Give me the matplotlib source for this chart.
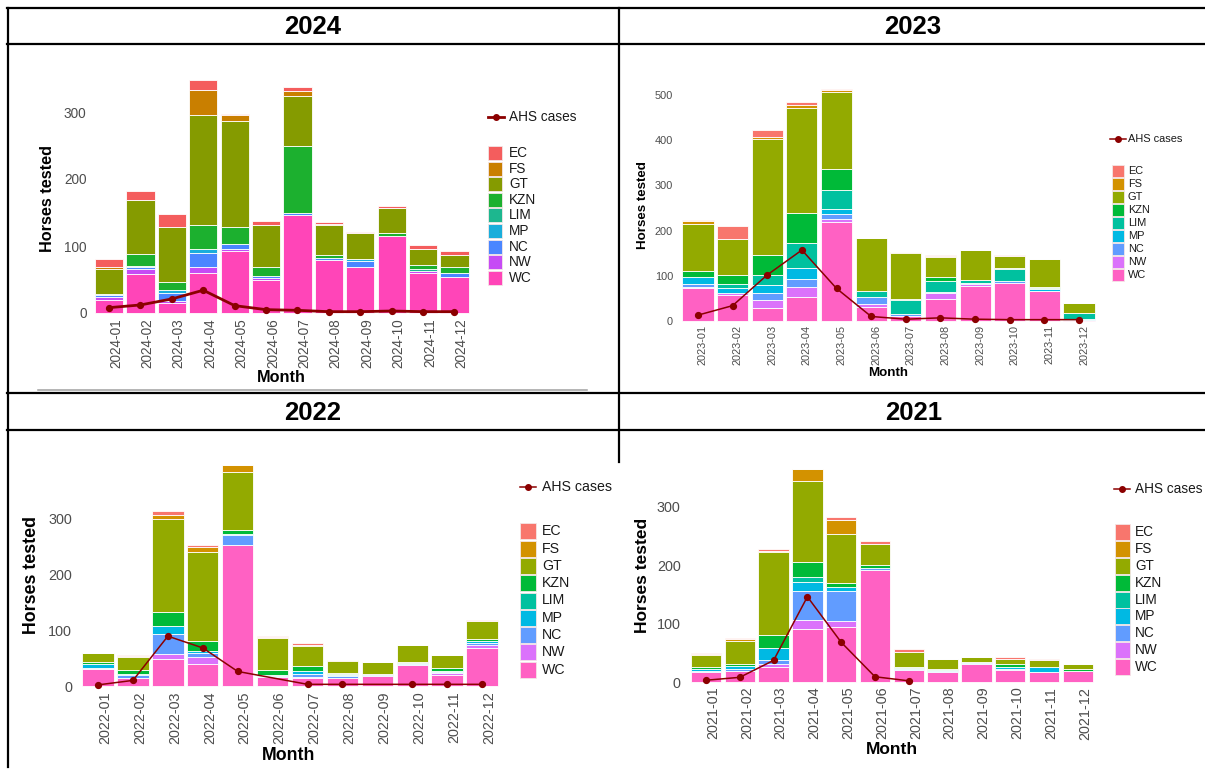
import matplotlib
matplotlib.use("Agg")
import matplotlib.pyplot as plt
from matplotlib.patches import Rectangle
from matplotlib.lines import Line2D
from matplotlib.ticker import MultipleLocator

plt.rcParams['font.family'] = ['Liberation Sans', 'DejaVu Sans']

regions = ["EC", "FS", "GT", "KZN", "LIM", "MP", "NC", "NW", "WC"]
stack_order = ["WC", "NW", "NC", "MP", "LIM", "KZN", "GT", "FS", "EC"]

# horses tested per region, Jan..Dec
tested_2024 = {
    "WC":  [20, 58, 15, 60, 93, 50, 146, 79, 68, 115, 60, 54],
    "NW":  [4, 8, 3, 8, 3, 2, 0, 0, 0, 0, 3, 0],
    "NC":  [3, 2, 12, 22, 7, 3, 4, 3, 9, 0, 0, 6],
    "MP":  [2, 2, 5, 6, 0, 0, 0, 0, 3, 0, 0, 0],
    "LIM": [0, 0, 0, 0, 0, 0, 0, 0, 0, 0, 3, 0],
    "KZN": [0, 18, 11, 35, 26, 13, 99, 4, 0, 5, 5, 9],
    "GT":  [36, 80, 82, 165, 157, 64, 75, 45, 40, 36, 25, 17],
    "FS":  [3, 0, 0, 37, 9, 0, 8, 2, 0, 0, 0, 0],
    "EC":  [13, 14, 20, 15, 2, 6, 5, 3, 1, 3, 5, 7],
}
tested_2023 = {
    "WC":  [72, 57, 29, 52, 220, 32, 10, 49, 78, 85, 66, 2],
    "NW":  [4, 4, 17, 24, 5, 6, 2, 12, 4, 0, 0, 0],
    "NC":  [5, 0, 17, 18, 11, 14, 3, 3, 0, 3, 0, 1],
    "MP":  [16, 12, 16, 23, 11, 0, 0, 0, 3, 0, 5, 2],
    "LIM": [0, 9, 22, 56, 43, 14, 31, 25, 6, 26, 2, 13],
    "KZN": [13, 19, 45, 67, 47, 0, 2, 8, 0, 3, 3, 0],
    "GT":  [104, 80, 256, 232, 170, 117, 102, 45, 67, 26, 61, 21],
    "FS":  [7, 0, 4, 6, 3, 0, 2, 2, 0, 1, 0, 0],
    "EC":  [2, 30, 16, 6, 4, 0, 0, 3, 0, 1, 0, 0],
}
tested_2022 = {
    "WC":  [30, 14, 49, 40, 251, 16, 14, 15, 18, 38, 20, 68],
    "NW":  [2, 0, 9, 12, 0, 0, 2, 0, 0, 0, 3, 5],
    "NC":  [0, 5, 35, 7, 18, 2, 5, 2, 2, 1, 2, 3],
    "MP":  [8, 3, 15, 3, 3, 2, 5, 3, 2, 2, 2, 4],
    "LIM": [0, 0, 0, 0, 0, 0, 0, 1, 0, 0, 0, 0],
    "KZN": [3, 6, 24, 18, 7, 8, 9, 3, 0, 2, 6, 4],
    "GT":  [16, 23, 166, 160, 103, 58, 36, 20, 21, 30, 22, 32],
    "FS":  [0, 2, 7, 8, 12, 1, 3, 2, 0, 1, 1, 0],
    "EC":  [0, 3, 7, 4, 1, 2, 2, 1, 0, 0, 0, 1],
}
tested_2021 = {
    "WC":  [17, 19, 26, 90, 94, 192, 21, 17, 31, 21, 17, 19],
    "NW":  [0, 0, 4, 16, 10, 0, 0, 0, 0, 0, 0, 0],
    "NC":  [2, 3, 7, 49, 52, 4, 1, 1, 1, 2, 0, 0],
    "MP":  [4, 5, 21, 17, 6, 0, 2, 2, 2, 2, 9, 0],
    "LIM": [0, 0, 0, 8, 0, 0, 0, 0, 1, 0, 0, 0],
    "KZN": [3, 4, 23, 26, 7, 4, 2, 3, 0, 5, 0, 3],
    "GT":  [20, 39, 142, 138, 85, 37, 25, 16, 7, 9, 11, 8],
    "FS":  [2, 4, 1, 20, 24, 0, 1, 0, 0, 1, 1, 0],
    "EC":  [2, 1, 3, 0, 5, 4, 4, 0, 0, 3, 1, 1],
}

# AHS cases per month (None = no point)
cases_2024 = [8, 12, 21, 34, 11, 5, 4, 2, 2, 3, 2, 2]
cases_2023 = [13, 34, 102, 157, 72, 10, 4, 7, 4, 3, 3, 3]
cases_2022 = [2, 10, 89, 68, 26, None, 3, 3, None, 3, 3, 3]
cases_2021 = [3, 8, 37, 146, 68, 9, 2, None, None, None, None, None]

hue = {"EC": "#F8766D", "FS": "#D39200", "GT": "#93AA00", "KZN": "#00BA38",
       "LIM": "#00C19F", "MP": "#00B9E3", "NC": "#619CFF", "NW": "#DB72FB",
       "WC": "#FF61C3"}
hue_2024 = {"EC": "#F45D5D", "FS": "#C97F00", "GT": "#859B00", "KZN": "#1CB02F",
            "LIM": "#1DB78F", "MP": "#1AAEDB", "NC": "#4A86FF", "NW": "#C64BF5",
            "WC": "#FF45B8"}

W, H = 1205, 770
fig = plt.figure(figsize=(W / 100, H / 100), dpi=100)


def fx(x):
    return x / W


def fy(y):
    return 1 - y / H


def hline(y, x0, x1, color="black", lw=1.6):
    fig.add_artist(Line2D([fx(x0), fx(x1)], [fy(y), fy(y)],
                          transform=fig.transFigure, color=color, lw=lw))


def vline(x, y0, y1, color="black", lw=1.6):
    fig.add_artist(Line2D([fx(x), fx(x)], [fy(y0), fy(y1)],
                          transform=fig.transFigure, color=color, lw=lw))


def panel(year, tested, cases, colors, L, R, zero, ppu, tick_fs, title_fs,
          xpad, ypad, line_w, ylab_xy, xlab_xy, leg):
    months = [f"{year}-{m:02d}" for m in range(1, 13)]
    totals = [sum(tested[r][i] for r in regions) for i in range(12)]
    top = max(totals) * 1.005
    ax = fig.add_axes([fx(L), fy(zero), (R - L) / W, top * ppu / H])
    x = list(range(12))
    bottom = [0] * 12
    for r in stack_order:
        ax.bar(x, tested[r], bottom=bottom, width=0.9, color=colors[r],
               edgecolor="white", linewidth=0.6, clip_on=False)
        bottom = [b + v for b, v in zip(bottom, tested[r])]
    cx = [i for i, c in enumerate(cases) if c is not None]
    cy = [c for c in cases if c is not None]
    ax.plot(cx, cy, color="#8B0000", lw=line_w, marker="o", ms=4.2, zorder=5,
            clip_on=False)
    ax.set_xlim(-0.6, 11.6)
    ax.set_ylim(0, top)
    ax.yaxis.set_major_locator(MultipleLocator(100))
    ax.set_xticks(x)
    ax.set_xticklabels(months)
    for s in ax.spines.values():
        s.set_visible(False)
    ax.tick_params(axis="both", length=0, colors="#4D4D4D", labelsize=tick_fs)
    ax.tick_params(axis="x", pad=xpad)
    ax.tick_params(axis="y", pad=ypad)
    plt.setp(ax.get_xticklabels(), rotation=90, ha="right", va="top",
             rotation_mode="anchor")
    fig.text(fx(ylab_xy[0]), fy(ylab_xy[1]), "Horses tested", rotation=90,
             ha="center", va="center", fontsize=title_fs, fontweight="bold")
    fig.text(fx(xlab_xy[0]), fy(xlab_xy[1]), "Month", ha="center",
             va="center", fontsize=title_fs, fontweight="bold")
    # legend
    ax_c, ay, tx, bl, bw, bh, first, step, fs = leg
    fig.add_artist(Line2D([fx(ax_c - 8), fx(ax_c + 8)], [fy(ay), fy(ay)],
                          transform=fig.transFigure, color="#8B0000",
                          lw=line_w))
    fig.add_artist(Line2D([fx(ax_c)], [fy(ay)], transform=fig.transFigure,
                          color="#8B0000", marker="o", ms=4))
    fig.text(fx(tx), fy(ay), "AHS cases", ha="left", va="center",
             fontsize=fs, color="#1A1A1A")
    for k, r in enumerate(regions):
        cy_ = first + k * step
        fig.add_artist(Rectangle((fx(bl), fy(cy_ + bh / 2)), bw / W, bh / H,
                                 transform=fig.transFigure,
                                 facecolor=colors[r], edgecolor="#F4E6E6",
                                 lw=0.6))
        fig.text(fx(tx), fy(cy_), r, ha="left", va="center", fontsize=fs,
                 color="#1A1A1A")
    return ax


panel(2024, tested_2024, cases_2024, hue_2024, 90.2, 473.3, 313, 0.67,
      9.8, 11.7, 3.8, 2.6, 2.0, (48, 198), (281, 377),
      (496, 117, 509, 488, 14, 14, 153, 15.6, 9.8))
panel(2023, tested_2023, cases_2023, hue, 677.2, 1099.8, 321, 0.452,
      7.9, 9.6, 2.9, 2.9, 1.1, (643.5, 205), (888, 373),
      (1118, 138.7, 1128, 1112, 12, 11.4, 171, 13, 7.9))
panel(2022, tested_2022, cases_2022, hue, 77.1, 503, 686, 0.56,
      10.4, 12.8, 4.1, 3.6, 1.1, (32, 575), (289, 756),
      (528, 486.7, 542, 520, 16, 16, 531.3, 17.3, 10.2))
panel(2021, tested_2021, cases_2021, hue, 685.7, 1098.1, 682, 0.584,
      10.4, 12.5, 3.4, 3.6, 1.1, (642.6, 575), (892, 750),
      (1122, 489.3, 1135, 1115, 15, 16, 532.4, 16.8, 9.8))

# table frame
hline(7.5, 7.5, W)
hline(44, 7.5, W)
hline(393, 7.5, W)
hline(430, 7.5, W)
vline(8, 7.5, 767)
vline(619, 7.5, 462)
hline(390, 38, 587, color="#A0A0A0", lw=1.1)

for label, xc, yc in [("2024", 313, 27), ("2023", 913, 27),
                      ("2022", 313, 413), ("2021", 914, 413)]:
    fig.text(fx(xc), fy(yc), label, ha="center", va="center",
             fontsize=18.5, fontweight="bold")

fig.savefig("out.png", dpi=100, facecolor="white")
